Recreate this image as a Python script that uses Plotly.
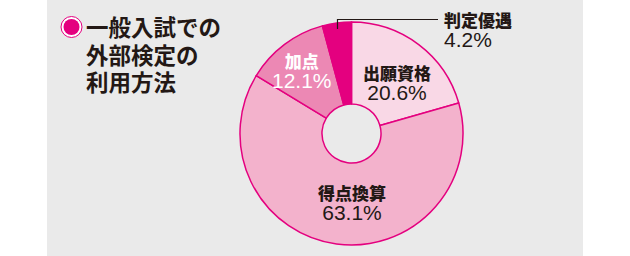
import plotly.graph_objects as go

labels = ["出願資格", "得点換算", "加点", "判定優遇"]
values = [20.6, 63.1, 12.1, 4.2]
colors = ["#f9d8e6", "#f3b2cc", "#ec88b4", "#e4007f"]
title_lines = ["一般入試での", "外部検定の", "利用方法"]

W, H = 630, 256
def px(x): return x / W
def py(y): return 1 - y / H

fig = go.Figure()
fig.add_trace(go.Pie(
    labels=labels, values=values, sort=False, direction="clockwise", rotation=0,
    hole=0.265, marker=dict(colors=colors, line=dict(color="#e4007f", width=1.5)),
    textinfo="none", hoverinfo="label+percent", showlegend=False,
    domain=dict(x=[px(240), px(463)], y=[py(245), py(22)]),
))

shapes = [
    dict(type="rect", xref="paper", yref="paper", x0=px(47), x1=px(583), y0=0, y1=1,
         fillcolor="#eaeaea", line=dict(width=0), layer="below"),
    dict(type="circle", xref="paper", yref="paper", x0=px(61), x1=px(82), y0=py(37.5), y1=py(16.5),
         fillcolor="white", line=dict(color="#e4007f", width=1)),
    dict(type="circle", xref="paper", yref="paper", x0=px(63.5), x1=px(79.5), y0=py(35), y1=py(19),
         fillcolor="#e4007f", line=dict(width=0)),
    dict(type="path", xref="paper", yref="paper",
         path=f"M {px(337.5)},{py(29)} L {px(337.5)},{py(19.5)} L {px(438)},{py(19.5)}",
         line=dict(color="#231815", width=1.2)),
]

ann = []
for i, t in enumerate(title_lines):
    ann.append(dict(text=f"<b>{t}</b>", x=px(84), y=py(26 + i * 27.5), xref="paper", yref="paper",
                    xanchor="left", yanchor="middle", showarrow=False,
                    font=dict(family="Noto Sans CJK JP", size=22.5, color="#231815", weight=900)))

label_pos = [(397, 81.5, "center", "#231815"),
             (352, 201.5, "center", "#231815"),
             (302, 69.5, "center", "white"),
             (442, 29, "left", "#231815")]
for lab, val, (x, yc, anchor, col) in zip(labels, values, label_pos):
    txt = (f"<span style='font-size:17px;font-weight:900'>{lab}</span><br>"
           f"<span style='font-family:Liberation Sans;font-size:21px'>{val}%</span>")
    ann.append(dict(text=txt, x=px(x), y=py(yc), xref="paper", yref="paper",
                    xanchor=anchor, yanchor="middle", align=anchor, showarrow=False,
                    font=dict(family="Noto Sans CJK JP", size=15, color=col)))

fig.update_layout(width=W, height=H, margin=dict(l=0, r=0, t=0, b=0),
                  paper_bgcolor="white", plot_bgcolor="white",
                  shapes=shapes, annotations=ann)
fig.write_html("out.html")
